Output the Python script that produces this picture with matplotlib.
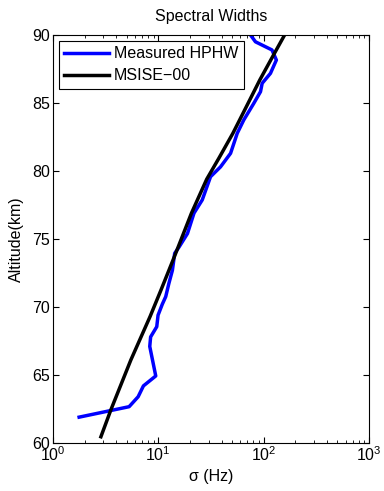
import matplotlib
matplotlib.use("Agg")
from matplotlib import pyplot as plt
from matplotlib.ticker import LogLocator, NullFormatter

plt.rcParams['font.family'] = ['Liberation Sans', 'DejaVu Sans']

# measured half-power half-width (Hz) vs altitude (km)
meas_sigma = [1.77, 5.28, 6.43, 7.22, 9.45, 8.29, 8.45, 9.66, 9.94, 10.9, 11.75,
              12.6, 13.6, 14.3, 15.7, 18.9, 21.8, 26.1, 31.3, 38.9, 48.5, 56.1,
              64.7, 80.5, 93.3, 96.8, 116, 132, 120, 83.6, 75]
meas_alt = [61.9, 62.67, 63.4, 64.2, 64.93, 67.1, 67.8, 68.55, 69.4, 70.2, 70.76,
            71.74, 72.7, 73.95, 74.4, 75.4, 76.9, 77.87, 79.58, 80.3, 81.3, 82.77,
            83.75, 84.97, 85.83, 86.45, 87.18, 88.16, 88.9, 89.5, 90.0]

# MSISE-00 model curve
model_sigma = [2.85, 3.54, 5.48, 8.35, 10.6, 14.2, 20.6, 28.8, 37.5, 51.0, 68.5,
               92.0, 124, 158]
model_alt = [60.46, 62.43, 66.1, 69.3, 71.25, 73.7, 76.89, 79.4, 80.93, 82.77,
             84.73, 86.7, 88.53, 90.0]

fig = plt.figure(figsize=(3.84, 4.91), dpi=100)
ax = fig.add_axes([53 / 384, 48 / 491, 316 / 384, 408 / 491])

ax.plot(meas_sigma, meas_alt, color='#0000ff', lw=2.5, label='Measured HPHW')
ax.plot(model_sigma, model_alt, color='black', lw=2.5, label='MSISE\u221200')

ax.set_xscale('log')
ax.set_xlim(1, 1000)
ax.set_ylim(60, 90)
ax.set_yticks([60, 65, 70, 75, 80, 85, 90])
ax.xaxis.set_minor_locator(LogLocator(base=10, subs=range(2, 10)))
ax.xaxis.set_minor_formatter(NullFormatter())
ax.tick_params(which='both', direction='in', top=True, right=True, labelsize=11.5)
ax.tick_params(which='major', length=4, pad=2)
ax.tick_params(which='minor', length=2)

ax.set_title('Spectral Widths', fontsize=11.5, pad=10)
ax.set_xlabel('\u03c3 (Hz)', fontsize=11.5, labelpad=3)
ax.set_ylabel('Altitude(km)', fontsize=11.5, labelpad=6)

leg = ax.legend(loc='upper left', fontsize=11.5, fancybox=False, framealpha=1,
                edgecolor='black', borderaxespad=0.35, handlelength=2.8,
                handletextpad=0.3, borderpad=0.35, labelspacing=0.45)
leg.get_frame().set_linewidth(0.8)

fig.savefig('out.png', dpi=100)
